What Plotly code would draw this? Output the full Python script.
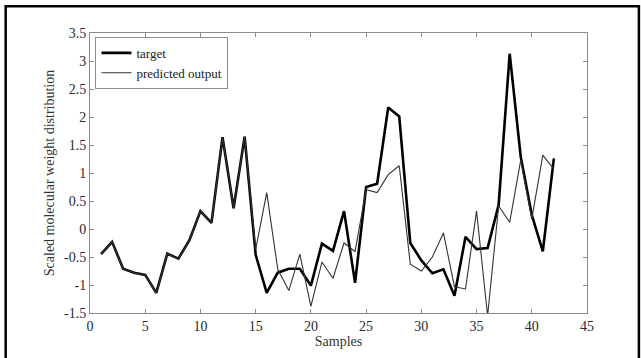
import plotly.graph_objects as go

samples = list(range(1, 43))
target = [-0.45, -0.23, -0.71, -0.78, -0.82, -1.14, -0.44, -0.53, -0.20, 0.32,
          0.11, 1.64, 0.37, 1.65, -0.46, -1.14, -0.78, -0.71, -0.71, -1.01,
          -0.26, -0.39, 0.32, -0.96, 0.75, 0.81, 2.17, 2.01, -0.25, -0.56,
          -0.79, -0.72, -1.19, -0.14, -0.36, -0.34, 0.43, 3.13, 1.29, 0.25,
          -0.40, 1.26]
predicted = [-0.45, -0.23, -0.71, -0.78, -0.82, -1.14, -0.44, -0.53, -0.20, 0.32,
             0.11, 1.64, 0.37, 1.65, -0.37, 0.65, -0.72, -1.10, -0.45, -1.38,
             -0.59, -0.88, -0.25, -0.40, 0.70, 0.65, 0.97, 1.13, -0.63, -0.75,
             -0.50, -0.07, -1.03, -1.07, 0.32, -1.55, 0.41, 0.12, 1.23, 0.18,
             1.32, 1.07]

xticks = [0, 5, 10, 15, 20, 25, 30, 35, 40, 45]
yticks = [-1.5, -1, -0.5, 0, 0.5, 1, 1.5, 2, 2.5, 3, 3.5]
ytick_text = ["-1.5", "-1", "-0.5", "0", "0.5", "1", "1.5", "2", "2.5", "3", "3.5"]

font_family = "Liberation Serif, Times New Roman, serif"

fig = go.Figure()
fig.add_trace(go.Scatter(x=samples, y=target, mode="lines", name="target",
                         line=dict(color="black", width=2.6)))
fig.add_trace(go.Scatter(x=samples, y=predicted, mode="lines", name="predicted output",
                         line=dict(color="#333333", width=1.1)))

W, H = 641, 358
L, R, T, B = 89.5, 587.5, 33, 320
pw, ph = R - L, B - T

def px(x):
    return (x - L) / pw

def py(y):
    return (B - y) / ph

axis_common = dict(showgrid=False, zeroline=False, showline=True, linecolor="#8c8c8c",
                   linewidth=1, mirror="ticks", ticks="inside", ticklen=4,
                   tickcolor="#8c8c8c", tickfont=dict(family=font_family, size=14, color="#2a2a2a"))

fig.update_layout(
    width=W, height=H,
    margin=dict(l=L, r=W - R, t=T, b=H - B, pad=0),
    paper_bgcolor="white", plot_bgcolor="white",
    font=dict(family=font_family, size=13, color="#333333"),
    showlegend=True,
    legend=dict(x=px(95), y=py(37), xanchor="left", yanchor="top",
                bordercolor="#8c8c8c", borderwidth=1, bgcolor="white",
                font=dict(family=font_family, size=13, color="#222222"),
                tracegroupgap=0, itemwidth=30),
    xaxis=dict(range=[0, 45], tickvals=xticks,
               title=dict(text="Samples", standoff=2, font=dict(family=font_family, size=14, color="#333333")),
               **axis_common),
    yaxis=dict(range=[-1.5, 3.5], tickvals=yticks, ticktext=ytick_text,
               title=dict(text="Scaled molecular weight distribution", standoff=6,
                          font=dict(family=font_family, size=14, color="#333333")),
               **axis_common),
    shapes=[dict(type="rect", xref="paper", yref="paper",
                 x0=px(5), x1=px(639.5), y0=py(400), y1=py(5.5),
                 line=dict(color="black", width=2.5), fillcolor="rgba(0,0,0,0)")],
)

fig.write_html("out.html", config={"displayModeBar": False},
               post_script="document.body.style.margin='0px';document.body.style.overflow='hidden';")
